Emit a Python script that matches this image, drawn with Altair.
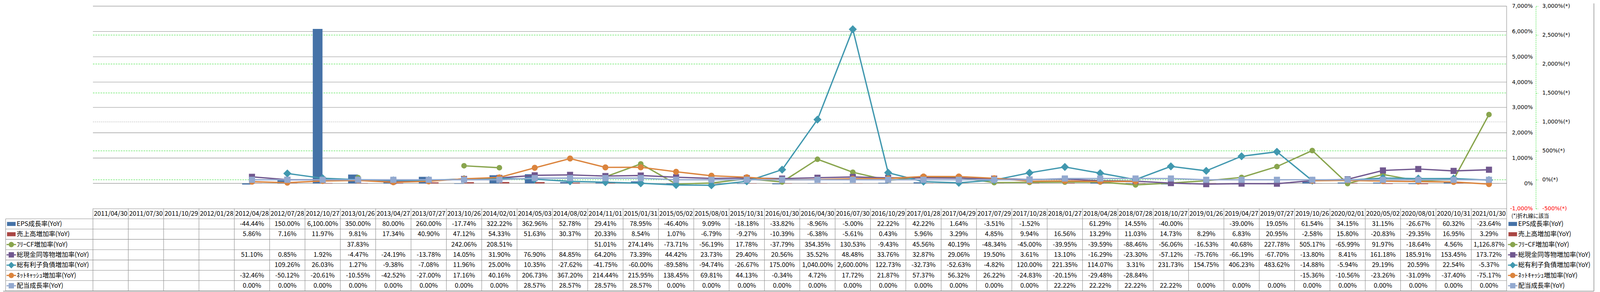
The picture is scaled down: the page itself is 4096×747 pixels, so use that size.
import altair as alt
import pandas as pd

# ---------------- data ----------------
dates = ["2011/04/30", "2011/07/30", "2011/10/29", "2012/01/28", "2012/04/28", "2012/07/28",
         "2012/10/27", "2013/01/26", "2013/04/27", "2013/07/27", "2013/10/26", "2014/02/01",
         "2014/05/03", "2014/08/02", "2014/11/01", "2015/01/31", "2015/05/02", "2015/08/01",
         "2015/10/31", "2016/01/30", "2016/04/30", "2016/07/30", "2016/10/29", "2017/01/28",
         "2017/04/29", "2017/07/29", "2017/10/28", "2018/01/27", "2018/04/28", "2018/07/28",
         "2018/10/27", "2019/01/26", "2019/04/27", "2019/07/27", "2019/10/26", "2020/02/01",
         "2020/05/02", "2020/08/01", "2020/10/31", "2021/01/30"]

eps = [None, None, None, None, -44.44, 150.00, 6100.00, 350.00, 80.00, 260.00, -17.74, 322.22,
       362.96, 52.78, 29.41, 78.95, -46.40, 9.09, -18.18, -33.82, -8.96, -5.00, 22.22, 42.22,
       1.64, -3.51, -1.52, None, 61.29, 14.55, -40.00, None, -39.00, 19.05, 61.54, 34.15,
       31.15, -26.67, 60.32, -23.64]
sales = [None, None, None, None, 5.86, 7.16, 11.97, 9.81, 17.34, 40.90, 47.12, 54.33,
         51.63, 30.37, 20.33, 8.54, 1.07, -6.79, -9.27, -10.39, -6.38, -5.61, 0.43, 5.96,
         3.29, 4.85, 9.94, 16.56, 13.29, 11.03, 14.73, 8.29, 6.83, 20.95, -2.58, 15.80,
         -20.83, -29.35, 16.95, 3.29]
fcf = [None, None, None, None, None, None, None, 37.83, None, None, 242.06, 208.51,
       None, None, 51.01, 274.14, -73.71, -56.19, 17.78, -37.79, 354.35, 130.53, -9.43, 45.56,
       40.19, -48.34, -45.00, -39.95, -39.59, -88.46, -56.06, -16.53, 40.68, 227.78, 505.17, -65.99,
       91.97, -18.64, 4.56, 1126.87]
cash = [None, None, None, None, 51.10, 0.85, 1.92, -4.47, -24.19, -13.78, 14.05, 31.90,
        76.90, 84.85, 64.20, 73.39, 44.42, 23.73, 29.40, 20.56, 35.52, 48.48, 33.76, 32.87,
        29.06, 19.50, 3.61, 13.10, -16.29, -23.30, -57.12, -75.76, -66.19, -67.70, -13.80, 8.41,
        161.18, 185.91, 153.45, 173.72]
debt = [None, None, None, None, None, 109.26, 26.03, 1.27, -9.38, -7.08, 11.96, 25.00,
        10.35, -27.62, -41.75, -60.00, -89.58, -94.74, -26.67, 175.00, 1040.00, 2600.00, 122.73, -32.73,
        -52.63, -4.82, 120.00, 221.35, 114.07, 3.31, 231.73, 154.75, 406.23, 483.62, -14.88, -5.94,
        29.19, 20.59, 22.54, -5.37]
netcash = [None, None, None, None, -32.46, -50.12, -20.61, -10.55, -42.52, -27.00, 17.16, 40.16,
           206.73, 367.20, 214.44, 215.95, 138.45, 69.81, 44.13, -0.34, 4.72, 17.72, 21.87, 57.37,
           56.32, 26.22, -24.83, -20.15, -29.48, -28.84, None, None, None, None, -15.36, -10.56,
           -23.26, -31.09, -37.40, -75.17]
dividend = [None, None, None, None, 0.00, 0.00, 0.00, 0.00, 0.00, 0.00, 0.00, 0.00,
            28.57, 28.57, 28.57, 28.57, 0.00, 0.00, 0.00, 0.00, 0.00, 0.00, 0.00, 0.00,
            0.00, 0.00, 0.00, 22.22, 22.22, 22.22, 22.22, 0.00, 0.00, 0.00, 0.00, 0.00,
            0.00, 0.00, 0.00, 0.00]

names = ["EPS成長率(YoY)", "売上高増加率(YoY)", "ﾌﾘｰCF増加率(YoY)", "総現金同等物増加率(YoY)",
         "総有利子負債増加率(YoY)", "ﾈｯﾄｷｬｯｼｭ増加率(YoY)", "配当成長率(YoY)"]
colors = ["#4572A7", "#AA4643", "#89A54E", "#71588F", "#4198AF", "#DB843D", "#93A9CF"]
series_values = [eps, sales, fcf, cash, debt, netcash, dividend]
line_shapes = {2: "circle", 3: "square", 4: "diamond", 5: "circle", 6: "square"}
line_sizes = {2: 205, 3: 245, 4: 430, 5: 240, 6: 245}
legend_sizes = {2: 190, 3: 190, 4: 280, 5: 190, 6: 190}

primary_ticks = list(range(-1000, 7001, 1000))
secondary_ticks = list(range(-500, 3001, 500))
secondary_grid_green = [0, 500, 1500, 2000, 2500]
secondary_grid_grey = [1000]
note_text = "(*)折れ線に該当"

# ---------------- layout helpers ----------------
S = 0.58
def X(v):
    return S * v - 8
def Y(v):
    return 0.577 * v - 4

W, H = 4088, 739
FONT_JP = "Noto Sans CJK JP"
FONT_AX = "DejaVu Sans"
GRID = "#8c8c8c"
GREEN = "#1fdc1f"
TFS = 16.5

xs = alt.Scale(domain=[0, 40], range=[X(411), X(6663)], nice=False, zero=False)
yp = alt.Scale(domain=[-1000, 7000], range=[Y(919), Y(19)], nice=False, zero=False)
ys2 = alt.Scale(domain=[-500, 3000], range=[Y(919), Y(19)], nice=False, zero=False)
yt = alt.Scale(domain=[-1, 7], range=[Y(918), Y(1284)], nice=False, zero=False)
cs = alt.Scale(domain=names, range=colors)

# long table
rows = []
for k, (nm, vals) in enumerate(zip(names, series_values)):
    seg = 0
    gap = True
    for i, v in enumerate(vals):
        if v is None:
            gap = True
            continue
        if gap:
            seg += 1
        gap = False
        rows.append({"series": nm, "k": k, "i": i, "value": v, "seg": f"{k}-{seg}",
                     "label": f"{v:,.2f}%"})
df = pd.DataFrame(rows)
names_df = pd.DataFrame({"series": names, "k": list(range(len(names)))})
dates_df = pd.DataFrame({"date": dates, "i": list(range(len(dates)))})

color_enc = alt.Color("series:N", scale=cs, legend=None)
layers = []

# ---------------- gridlines + axes ----------------
neg_red = {"expr": "datum.value < 0 ? '#ff0000' : '#000000'"}
pg = alt.Chart(pd.DataFrame({"v": primary_ticks})).transform_calculate(
    a="0", b="40").mark_rule(color=GRID, strokeWidth=1.1).encode(
    x=alt.X("a:Q", scale=xs, axis=None), x2="b:Q",
    y=alt.Y("v:Q", scale=yp, axis=alt.Axis(
        orient="right", offset=X(6778) - W, values=primary_ticks,
        labelExpr="(datum.value < 0 ? '-' : '') + format(abs(datum.value), ',') + '%'",
        domain=False, ticks=False, tickSize=0, labelPadding=0, labelAlign="right",
        labelFont=FONT_AX, labelFontSize=14, labelColor=neg_red, grid=False, title="",
        labelOverlap=False, labelBound=False)))
layers.append(pg)

sg = alt.Chart(pd.DataFrame({"v": secondary_grid_green})).transform_calculate(
    a="0", b="40").mark_rule(color=GREEN, strokeWidth=1, strokeDash=[4, 2.5]).encode(
    x=alt.X("a:Q", scale=xs, axis=None), x2="b:Q",
    y=alt.Y("v:Q", scale=ys2, axis=alt.Axis(
        orient="right", offset=X(6792) - W, values=secondary_ticks,
        labelExpr="(datum.value < 0 ? '-' : '') + format(abs(datum.value), ',') + '%(*)'",
        domain=True, domainColor=GREEN, domainDash=[3, 2], domainWidth=1,
        ticks=True, tickColor=GREEN, tickDash=[3, 2], tickSize=6, tickWidth=1,
        labelPadding=X(6820) - X(6792) - 6, labelAlign="left",
        labelFont=FONT_AX, labelFontSize=14, labelColor=neg_red, grid=False, title="",
        labelOverlap=False, labelBound=False)))
layers.append(sg)

layers.append(alt.Chart(pd.DataFrame({"v": secondary_grid_grey})).transform_calculate(
    a="0", b="40").mark_rule(color="#a0a0a0", strokeWidth=0.9, strokeDash=[3, 2]).encode(
    x=alt.X("a:Q", scale=xs, axis=None), x2="b:Q",
    y=alt.Y("v:Q", scale=ys2, axis=None)))

# plot right border
layers.append(alt.Chart(pd.DataFrame({"b": [40]})).transform_calculate(
    v0="-1000", v1="7000").mark_rule(color=GRID, strokeWidth=1.1).encode(
    x=alt.X("b:Q", scale=xs, axis=None),
    y=alt.Y("v0:Q", scale=yp, axis=None), y2="v1:Q"))

# ---------------- bars ----------------
bars = alt.Chart(df).transform_filter("datum.k < 2").transform_calculate(
    x0="datum.i + 0.22 + 0.285 * datum.k", x1="datum.i + 0.495 + 0.285 * datum.k", z="0"
).mark_bar(cornerRadius=0).encode(
    x=alt.X("x0:Q", scale=xs, axis=None), x2="x1:Q",
    y=alt.Y("value:Q", scale=yp, axis=None), y2="z:Q",
    color=color_enc)
layers.append(bars)

# ---------------- lines ----------------
for k in range(2, 7):
    base = alt.Chart(df).transform_filter(f"datum.k == {k}").transform_calculate(xc="datum.i + 0.5")
    layers.append(base.mark_line(strokeWidth=3.4, strokeJoin="round", strokeCap="round").encode(
        x=alt.X("xc:Q", scale=xs, axis=None),
        y=alt.Y("value:Q", scale=ys2, axis=None),
        color=color_enc, detail="seg:N"))
    layers.append(base.mark_point(filled=True, opacity=1, shape=line_shapes[k], size=line_sizes[k]).encode(
        x=alt.X("xc:Q", scale=xs, axis=None),
        y=alt.Y("value:Q", scale=ys2, axis=None),
        color=color_enc))

# ---------------- table grid ----------------
layers.append(alt.Chart(pd.DataFrame({"b": list(range(41))})).transform_calculate(
    r0="-1", r1="7").mark_rule(color=GRID, strokeWidth=1.1).encode(
    x=alt.X("b:Q", scale=xs, axis=None),
    y=alt.Y("r0:Q", scale=yt, axis=None), y2="r1:Q"))
layers.append(alt.Chart(pd.DataFrame({"r": list(range(8))})).mark_rule(color=GRID, strokeWidth=1.1).encode(
    x=alt.value(X(25)), x2=alt.value(X(6663)),
    y=alt.Y("r:Q", scale=yt, axis=None)))
layers.append(alt.Chart(pd.DataFrame({"r0": [0]})).transform_calculate(r1="7").mark_rule(
    color=GRID, strokeWidth=1.1).encode(
    x=alt.value(X(25)),
    y=alt.Y("r0:Q", scale=yt, axis=None), y2="r1:Q"))

# header dates
layers.append(alt.Chart(dates_df).transform_calculate(xc="datum.i + 0.5", r="-0.5").mark_text(
    font=FONT_JP, fontSize=TFS, color="#000", align="center", baseline="middle").encode(
    x=alt.X("xc:Q", scale=xs, axis=None),
    y=alt.Y("r:Q", scale=yt, axis=None), text="date:N"))

# values
layers.append(alt.Chart(df).transform_calculate(xc="datum.i + 0.5", r="datum.k + 0.5").mark_text(
    font=FONT_JP, fontSize=TFS, color="#000", align="center", baseline="middle").encode(
    x=alt.X("xc:Q", scale=xs, axis=None),
    y=alt.Y("r:Q", scale=yt, axis=None), text="label:N"))

# ---------------- row labels and right legend ----------------
rect_path = "M-1,-0.47L1,-0.47L1,0.47L-1,0.47Z"

def legend_block(cx, x_line0, x_line1, x_text):
    out = []
    nb = alt.Chart(names_df).transform_calculate(r="datum.k + 0.5")
    out.append(nb.transform_filter("datum.k < 2").mark_point(
        filled=True, opacity=1, shape=rect_path, size=484).encode(
        x=alt.value(cx), y=alt.Y("r:Q", scale=yt, axis=None), color=color_enc))
    out.append(nb.transform_filter("datum.k >= 2").mark_rule(strokeWidth=3).encode(
        x=alt.value(x_line0), x2=alt.value(x_line1),
        y=alt.Y("r:Q", scale=yt, axis=None), color=color_enc))
    for k in range(2, 7):
        out.append(nb.transform_filter(f"datum.k == {k}").mark_point(
            filled=True, opacity=1, shape=line_shapes[k], size=legend_sizes[k]).encode(
            x=alt.value(cx), y=alt.Y("r:Q", scale=yt, axis=None), color=color_enc))
    out.append(nb.mark_text(font=FONT_JP, fontSize=TFS, color="#000", align="left",
                            baseline="middle").encode(
        x=alt.value(x_text), y=alt.Y("r:Q", scale=yt, axis=None), text="series:N"))
    return out

layers += legend_block(X(50), X(29), X(71), X(74))
layers += legend_block(X(6690), X(6669), X(6711), X(6714))

layers.append(alt.Chart(pd.DataFrame({"t": [note_text]})).mark_text(
    font=FONT_JP, fontSize=13.5, color="#000", align="left", baseline="middle").encode(
    x=alt.value(X(6684)), y=alt.value(Y(952)), text="t:N"))

# outer border (right & bottom)
layers.append(alt.Chart(pd.DataFrame({"t": [0]})).mark_rule(color="#8c8c8c", strokeWidth=1.5).encode(
    x=alt.value(X(7049)), y=alt.value(0), y2=alt.value(Y(1285))))
layers.append(alt.Chart(pd.DataFrame({"t": [0]})).mark_rule(color="#8c8c8c", strokeWidth=1.5).encode(
    x=alt.value(0), x2=alt.value(X(7049)), y=alt.value(Y(1285))))

chart = alt.layer(*layers).resolve_scale(y="independent").properties(
    width=W, height=H, autosize=alt.AutoSizeParams(type="none"), padding=0,
    background="white").configure_view(strokeWidth=0)

chart.save("out.html", embed_options={"renderer": "svg", "actions": False})
